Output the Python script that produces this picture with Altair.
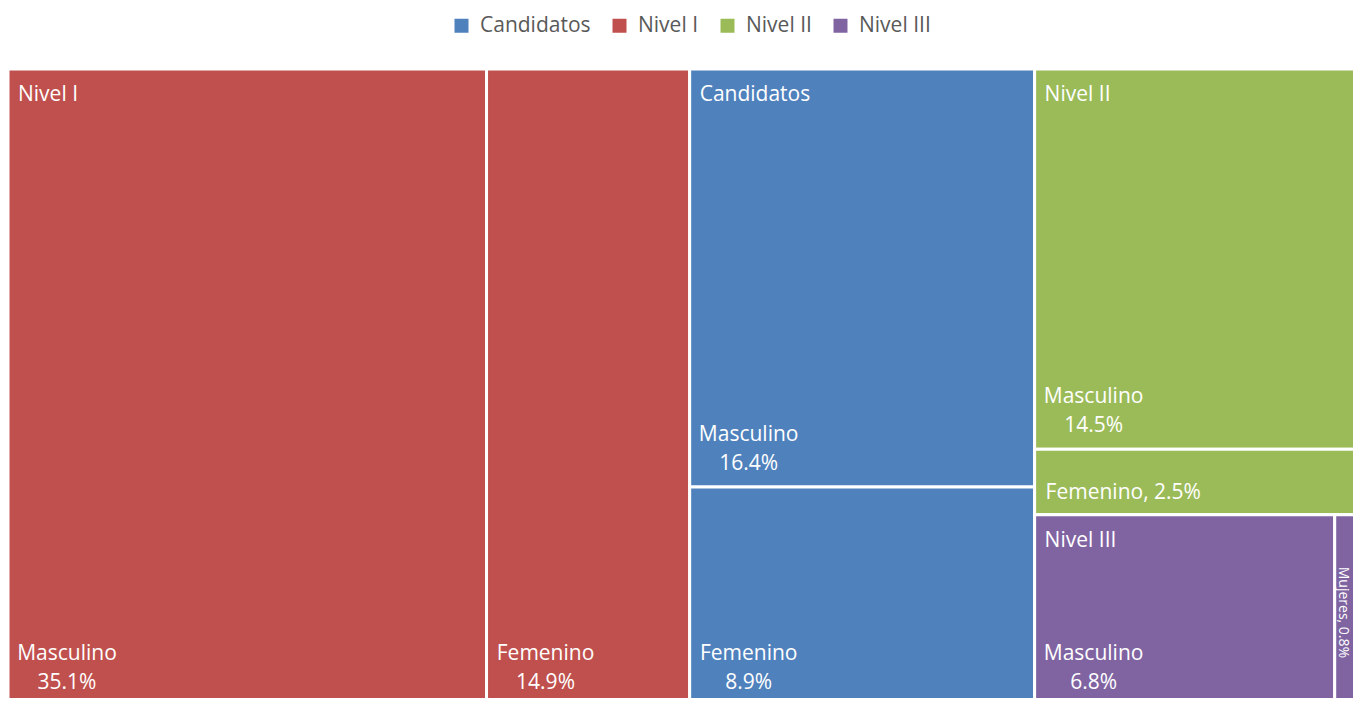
import altair as alt
import pandas as pd

# ---- data ----
groups = ["Nivel I", "Nivel I", "Candidatos", "Candidatos", "Nivel II", "Nivel II", "Nivel III", "Nivel III"]
leaves = ["Masculino", "Femenino", "Masculino", "Femenino", "Masculino", "Femenino", "Masculino", "Mujeres"]
values = [35.1, 14.9, 16.4, 8.9, 14.5, 2.5, 6.8, 0.8]

legend_order = ["Candidatos", "Nivel I", "Nivel II", "Nivel III"]
legend_colors = ["#4F81BD", "#C0504D", "#9BBB59", "#8064A2"]

# ---- layout space (full treemap extends a little beyond the visible page) ----
LAYOUT_W, LAYOUT_H = 1362.0, 645.0
VIEW_W, VIEW_H = 1345, 629
FONT = "Open Sans"


def worst(row, side):
    s = sum(row)
    return max(side * side * max(row) / (s * s), (s * s) / (side * side * min(row)))


def squarify(areas, x, y, w, h):
    rects = []
    areas = list(areas)
    while areas:
        side = min(w, h)
        row = [areas[0]]
        i = 1
        while i < len(areas) and worst(row + [areas[i]], side) <= worst(row, side):
            row.append(areas[i])
            i += 1
        s = sum(row)
        if w >= h:
            cw = s / h
            yy = y
            for a in row:
                rh = a / cw
                rects.append((x, yy, x + cw, yy + rh))
                yy += rh
            x += cw
            w -= cw
        else:
            rh = s / w
            xx = x
            for a in row:
                rw = a / rh
                rects.append((xx, y, xx + rw, y + rh))
                xx += rw
            y += rh
            h -= rh
        areas = areas[i:]
    return rects


# group totals, sorted descending
gtot = {}
for g, v in zip(groups, values):
    gtot[g] = gtot.get(g, 0) + v
gnames = sorted(gtot, key=lambda g: -gtot[g])
total = sum(values)
scale = LAYOUT_W * LAYOUT_H / total
grects = squarify([gtot[g] * scale for g in gnames], 0, 0, LAYOUT_W, LAYOUT_H)

leaf_rows = []
parent_rows = []
for g, (gx0, gy0, gx1, gy1) in zip(gnames, grects):
    parent_rows.append({"group": g, "gx0": gx0, "gy0": gy0})
    kids = [(l, v) for gg, l, v in zip(groups, leaves, values) if gg == g]
    kids.sort(key=lambda t: -t[1])
    krects = squarify([v * scale for _, v in kids], gx0, gy0, gx1 - gx0, gy1 - gy0)
    for (l, v), (x0, y0, x1, y1) in zip(kids, krects):
        w, h = x1 - x0, y1 - y0
        if w < 60:
            kind = "rot"
        elif h < 100:
            kind = "single"
        else:
            kind = "double"
        leaf_rows.append({
            "group": g, "leaf": l, "value": v,
            "x0": x0, "y0": y0, "x1": x1, "y1": y1,
            # keep bottom labels inside the visible page
            "yb": min(y1, VIEW_H + 8),
            "kind": kind,
            "vlabel": f"{v:.1f}%",
            "combined": f"{l}, {v:.1f}%",
        })

df = pd.DataFrame(leaf_rows)
pdf = pd.DataFrame(parent_rows)

xs = alt.Scale(domain=[0, VIEW_W], nice=False, zero=False)
ys = alt.Scale(domain=[0, VIEW_H], nice=False, zero=False, reverse=True)

base = alt.Chart(df)

rects = base.mark_rect(stroke="white", strokeWidth=3, clip=True, opacity=1).encode(
    x=alt.X("x0:Q", scale=xs, axis=None),
    x2="x1:Q",
    y=alt.Y("y0:Q", scale=ys, axis=None),
    y2="y1:Q",
    color=alt.Color(
        "group:N",
        scale=alt.Scale(domain=legend_order, range=legend_colors),
        legend=alt.Legend(
            title=None, orient="none", legendX=443, legendY=-54,
            direction="horizontal", columns=4,
            symbolType="square", symbolSize=196, symbolStrokeWidth=0, symbolOpacity=1,
            labelFont=FONT, labelFontSize=21, labelColor="#595959",
            labelOffset=8, columnPadding=18, padding=0,
        ),
    ),
)

txt = dict(color="white", font=FONT, fontSize=21, baseline="middle")

name2 = base.transform_filter(alt.datum.kind == "double").mark_text(
    align="center", dx=59, dy=-52, **txt
).encode(x=alt.X("x0:Q", scale=xs), y=alt.Y("yb:Q", scale=ys), text="leaf:N")

val2 = base.transform_filter(alt.datum.kind == "double").mark_text(
    align="center", dx=59, dy=-23, **txt
).encode(x=alt.X("x0:Q", scale=xs), y=alt.Y("yb:Q", scale=ys), text="vlabel:N")

single = base.transform_filter(alt.datum.kind == "single").mark_text(
    align="left", dx=11, dy=-22, **txt
).encode(x=alt.X("x0:Q", scale=xs), y=alt.Y("yb:Q", scale=ys), text="combined:N")

# rotated label for the narrow slice: dx runs along the text (down), -dy moves right
rot = base.transform_filter(alt.datum.kind == "rot").mark_text(
    align="left", angle=90, dx=52, dy=-8, color="white", font=FONT, fontSize=14, baseline="middle"
).encode(x=alt.X("x0:Q", scale=xs), y=alt.Y("y0:Q", scale=ys), text="combined:N")

parents = alt.Chart(pdf).mark_text(
    align="left", dx=10, dy=26, **txt
).encode(x=alt.X("gx0:Q", scale=xs), y=alt.Y("gy0:Q", scale=ys), text="group:N")

chart = alt.layer(rects, name2, val2, single, rot, parents).properties(
    width=VIEW_W, height=VIEW_H,
    autosize=alt.AutoSizeParams(type="none"),
    padding={"left": 0, "top": 61, "right": 0, "bottom": 0},
    background="white",
).configure_view(stroke=None)

chart.save("out.html", embed_options={"renderer": "svg", "actions": False})
